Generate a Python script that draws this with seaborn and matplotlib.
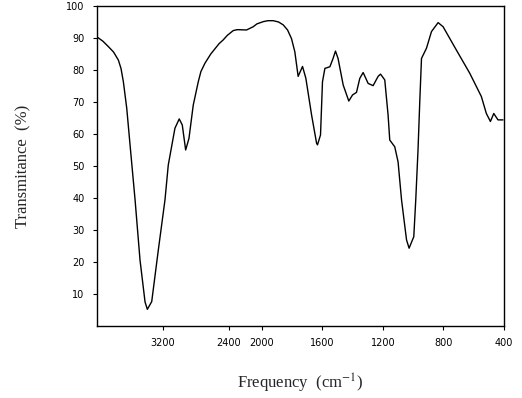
import numpy as np
import pandas as pd
import matplotlib
matplotlib.use("Agg")
import matplotlib.pyplot as plt
import seaborn as sns

# IR spectrum, values
wavenumber = [4000, 3930, 3863, 3800, 3742, 3710, 3681, 3640, 3600, 3539,
              3479, 3418, 3390, 3337, 3257, 3176, 3136, 3055, 3003, 2966,
              2925, 2885, 2833, 2772, 2740, 2691, 2620, 2520, 2469, 2420,
              2348, 2300, 2186, 2106, 2060, 1991, 1960, 1925, 1890, 1859,
              1830, 1804, 1782, 1760, 1731, 1709, 1671, 1638, 1632, 1612,
              1599, 1583, 1550, 1529, 1513, 1496, 1462, 1425, 1400, 1374,
              1352, 1330, 1297, 1264, 1231, 1215, 1187, 1165, 1154, 1121,
              1099, 1076, 1043, 1026, 995, 982, 967, 955, 944, 911,
              878, 834, 801, 713, 625, 548, 515, 488, 466, 438, 405]
transmittance = [90.3, 89.0, 87.3, 85.6, 83.1, 80.5, 76.3, 68.0, 56.6, 39.4,
                 20.6, 7.5, 5.2, 7.6, 23.7, 39.4, 50.3, 61.8, 64.7, 62.8,
                 55.0, 58.6, 69.0, 76.3, 79.5, 82.1, 85.0, 88.2, 89.4, 90.8,
                 92.3, 92.6, 92.5, 93.5, 94.4, 95.1, 95.4, 95.4, 95.0, 94.1,
                 92.5, 89.8, 85.7, 78.0, 81.1, 77.4, 65.9, 57.1, 56.6, 59.7,
                 76.3, 80.5, 81.0, 83.6, 85.9, 83.6, 75.3, 70.3, 72.2, 73.0,
                 77.4, 79.2, 75.8, 75.1, 78.0, 78.7, 76.9, 65.9, 58.1, 56.0,
                 51.3, 39.4, 26.9, 24.3, 27.9, 39.4, 55.0, 70.6, 83.6, 86.8,
                 92.0, 94.8, 93.5, 86.2, 79.0, 71.7, 66.4, 63.9, 66.4, 64.4, 64.4]

x_ticks = [3200, 2400, 2000, 1600, 1200, 800, 400]
y_ticks = [10, 20, 30, 40, 50, 60, 70, 80, 90, 100]

df = pd.DataFrame({"wn": wavenumber, "T": transmittance})

# above 2000 cm-1 the chart is compressed (usual IR paper layout)
SPLIT = 2000
K = 0.545


def fwd(x):
    x = np.asarray(x, dtype=float)
    return np.where(x > SPLIT, SPLIT + (x - SPLIT) * K, x)


def inv(y):
    y = np.asarray(y, dtype=float)
    return np.where(y > SPLIT, SPLIT + (y - SPLIT) / K, y)


sns.set_style("ticks")
plt.rcParams["mathtext.fontset"] = "stix"

fig = plt.figure(figsize=(5.22, 3.98), dpi=100)
ax = fig.add_axes([0.186, 0.181, 0.779, 0.804])

sns.lineplot(data=df, x="wn", y="T", sort=False, color="black",
             linewidth=1.0, ax=ax)

ax.set_xscale("function", functions=(fwd, inv))
ax.set_xlim(4000, 400)
ax.set_ylim(0, 100)
ax.set_xticks(x_ticks)
ax.set_xticklabels([str(t) for t in x_ticks])
ax.set_yticks(y_ticks)
ax.set_yticklabels([str(t) for t in y_ticks])
ax.minorticks_off()

ax.tick_params(axis="both", direction="out", length=3, width=0.8,
               labelsize=7, colors="black", pad=6)

for s in ax.spines.values():
    s.set_visible(True)
    s.set_color("black")
    s.set_linewidth(1.0)

ax.set_xlabel("Frequency  (cm$^{-1}$)", family="Liberation Serif",
              fontsize=12, labelpad=17)
ax.set_ylabel("Transmitance  (%)", family="Liberation Serif",
              fontsize=12, labelpad=25)

fig.savefig("out.png", dpi=100, facecolor="white")
